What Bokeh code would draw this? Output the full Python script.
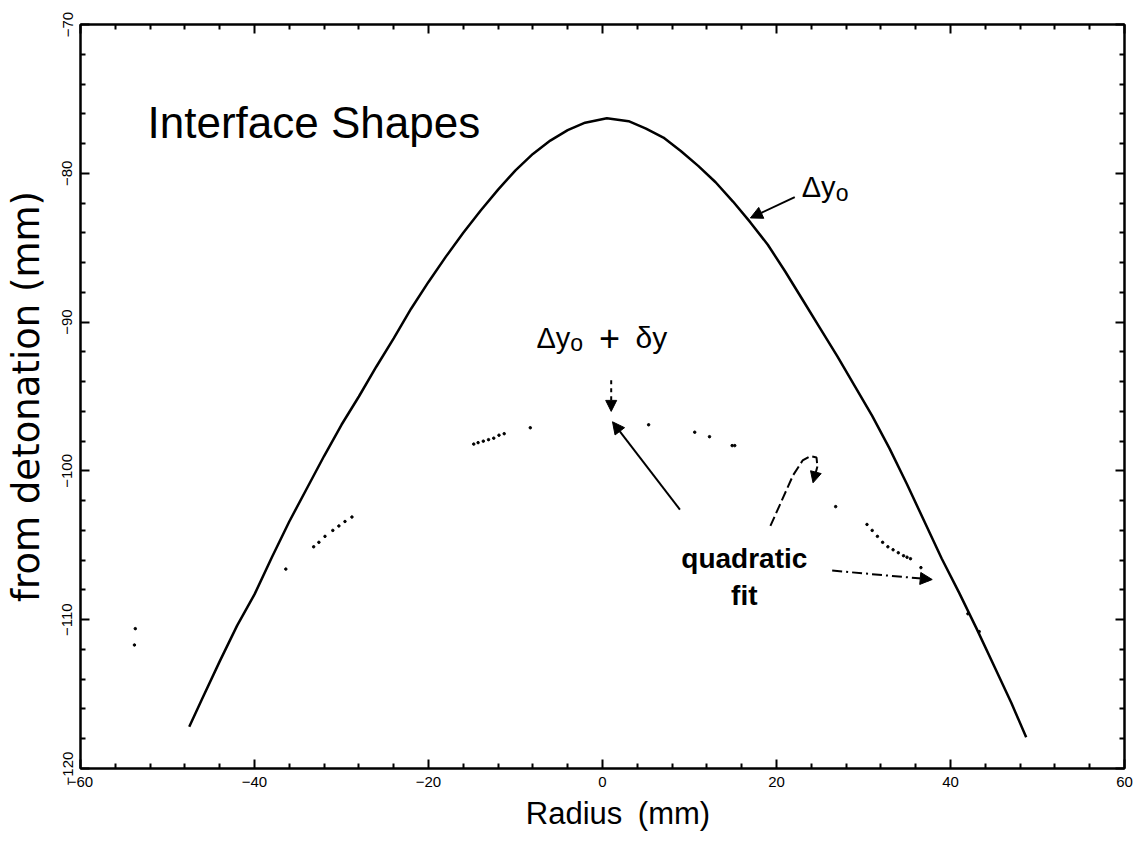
from bokeh.plotting import figure
from bokeh.models import (Range1d, LinearAxis, Arrow, NormalHead, Label, FixedTicker,
                          CustomLabelingPolicy)
from bokeh.embed import file_html
from bokeh.resources import INLINE

# ---- data ----
radius = [-47.5, -46, -44, -42, -40, -38, -36, -34, -32, -30, -28, -26, -24, -22, -20, -18,
          -16, -14, -12, -10, -8, -6, -4, -2, 0.5, 3, 5, 7, 9, 11, 13, 15, 17, 19, 21,
          23, 25, 27, 29, 31, 33, 35, 37, 39, 41, 43, 45, 47, 48.7]
interface = [-117.2, -115.3, -112.8, -110.4, -108.3, -105.8, -103.4, -101.2, -99.0, -96.9,
             -95.0, -93.0, -91.1, -89.1, -87.3, -85.6, -84.0, -82.5, -81.1, -79.8, -78.7,
             -77.8, -77.1, -76.6, -76.3, -76.5, -77.0, -77.6, -78.5, -79.5, -80.6, -81.9,
             -83.3, -84.8, -86.6, -88.5, -90.4, -92.3, -94.3, -96.3, -98.5, -100.9, -103.4,
             -105.9, -108.2, -110.6, -113.1, -115.6, -117.9]

pert_x = [-53.7, -53.8, -36.4, -33.2, -32.6, -31.9, -31.0, -30.3, -29.6, -28.8,
          -14.8, -14.3, -13.7, -13.1, -12.5, -11.9, -11.3, -8.3, 5.3, 10.6, 12.3, 14.9, 15.2,
          26.8, 30.4, 31.0, 31.6, 32.2, 32.8, 33.4, 34.0, 34.6, 35.0, 35.4, 36.6, 37.5, 42.0, 43.3]
pert_y = [-110.6, -111.7, -106.6, -105.1, -104.8, -104.4, -104.0, -103.7, -103.4, -103.1,
          -98.2, -98.1, -98.0, -97.9, -97.8, -97.6, -97.5, -97.1, -96.9, -97.4, -97.7, -98.3, -98.3,
          -102.4, -103.6, -104.0, -104.4, -104.8, -105.1, -105.3, -105.5, -105.7, -105.8, -105.9,
          -106.5, -107.3, -109.6, -110.8]

x_ticks = [-60, -40, -20, 0, 20, 40, 60]
x_minor = [-56, -52, -48, -44, -36, -32, -28, -24, -16, -12, -8, -4,
           4, 8, 12, 16, 24, 28, 32, 36, 44, 48, 52, 56]
y_ticks = [-120, -110, -100, -90, -80, -70]
y_minor = [-118, -116, -114, -112, -108, -106, -104, -102, -98, -96, -94, -92,
           -88, -86, -84, -82, -78, -76, -74, -72]

# annotation arrows: (x_start, y_start, x_end, y_end)
arrow_dy0 = (22.1, -81.6, 17.0, -83.0)
arrow_pert_dash = (1.0, -93.9, 1.0, -96.0)
arrow_pert_solid = (8.9, -102.6, 1.15, -96.7)
arrow_fit = (26.4, -106.7, 37.9, -107.3)
curl_x = [19.3, 21.9, 23.0, 23.9, 24.6, 24.7]
curl_y = [-103.7, -100.3, -99.3, -99.0, -99.1, -99.7]
curl_tip = (24.7, -99.7, 24.2, -100.8)

FONT = "Liberation Sans"

p = figure(frame_width=1044, frame_height=744,
           x_range=Range1d(-60, 60), y_range=Range1d(-120, -70),
           output_backend="svg", toolbar_location=None,
           min_border_left=80, min_border_right=6, min_border_top=24, min_border_bottom=72,
           background_fill_color="white", border_fill_color="white")
p.grid.visible = False
p.outline_line_color = "black"
p.outline_line_width = 2

hide_all = CustomLabelingPolicy(code="""
    const r = indices.clone ? indices.clone() : indices
    for (const i of indices) { r.unset(i) }
    return r
""")


def style_axis(ax, ticks, minor, show_labels):
    ax.ticker = FixedTicker(ticks=ticks, minor_ticks=minor)
    ax.axis_line_color = "black"
    ax.axis_line_width = 2
    ax.major_tick_in = 9
    ax.major_tick_out = 0
    ax.minor_tick_in = 5
    ax.minor_tick_out = 0
    ax.major_tick_line_width = 2
    ax.minor_tick_line_width = 2
    ax.major_tick_line_color = "black"
    ax.minor_tick_line_color = "black"
    ax.major_label_text_font = FONT
    ax.major_label_text_color = "black"
    ax.major_label_text_font_size = "15px"
    if show_labels:
        ax.major_label_standoff = 8
    else:
        ax.major_label_standoff = 0
        ax.major_label_policy = hide_all


xb = p.below[0]
yl = p.left[0]
style_axis(xb, x_ticks, x_minor, True)
style_axis(yl, y_ticks, y_minor, True)
yl.major_label_orientation = "vertical"
xb.axis_label = "\u2002\u2002Radius\u2002(mm)"
yl.axis_label = "from detonation (mm)"
for ax, font, size, standoff in ((xb, FONT, "31px", 6), (yl, "DejaVu Sans", "37px", 12)):
    ax.axis_label_text_font = font
    ax.axis_label_text_font_style = "normal"
    ax.axis_label_text_font_size = size
    ax.axis_label_text_color = "black"
    ax.axis_label_standoff = standoff

xt = LinearAxis()
yr = LinearAxis()
style_axis(xt, x_ticks, x_minor, False)
style_axis(yr, y_ticks, y_minor, False)
p.add_layout(xt, "above")
p.add_layout(yr, "right")

# main interface curve
p.line(radius, interface, line_color="black", line_width=2.5)
# perturbed interface / quadratic fit dotted points
p.scatter(pert_x, pert_y, marker="circle", size=2.5, fill_color="black", line_color="black")


def add_arrow(coords, dash="solid", size=12):
    xs, ys, xe, ye = coords
    p.add_layout(Arrow(end=NormalHead(size=size, fill_color="black", line_color="black"),
                       x_start=xs, y_start=ys, x_end=xe, y_end=ye,
                       line_color="black", line_width=2, line_dash=dash))


add_arrow(arrow_dy0)
add_arrow(arrow_pert_dash, dash="4 4", size=11)
add_arrow(arrow_pert_solid)
add_arrow(arrow_fit, dash="10 4 2 4")
p.line(curl_x, curl_y, line_color="black", line_width=2, line_dash="10 4")
add_arrow(curl_tip, size=11)


def add_text(x, y, text, size, style="normal", align="left", lift=18):
    p.add_layout(Label(x=x, y=y, text=text, text_font=FONT, text_font_size=size,
                       text_font_style=style, text_color="black", y_offset=lift,
                       text_align=align, text_baseline="alphabetic"))


add_text(-52.3, -78.1, "Interface Shapes", "44px", lift=23)
add_text(22.9, -82.15, "Δy", "29px")
add_text(26.8, -82.5, "o", "23px")
add_text(-7.6, -92.26, "Δy", "29px")
add_text(-3.7, -92.6, "o", "23px")
add_text(-0.4, -92.26, "+", "36px")
add_text(3.8, -92.26, "δy", "30px")
add_text(16.3, -107.1, "quadratic", "28px", style="bold", align="center")
add_text(16.3, -109.6, "fit", "28px", style="bold", align="center")

open("out.html", "w").write(file_html(p, INLINE))
